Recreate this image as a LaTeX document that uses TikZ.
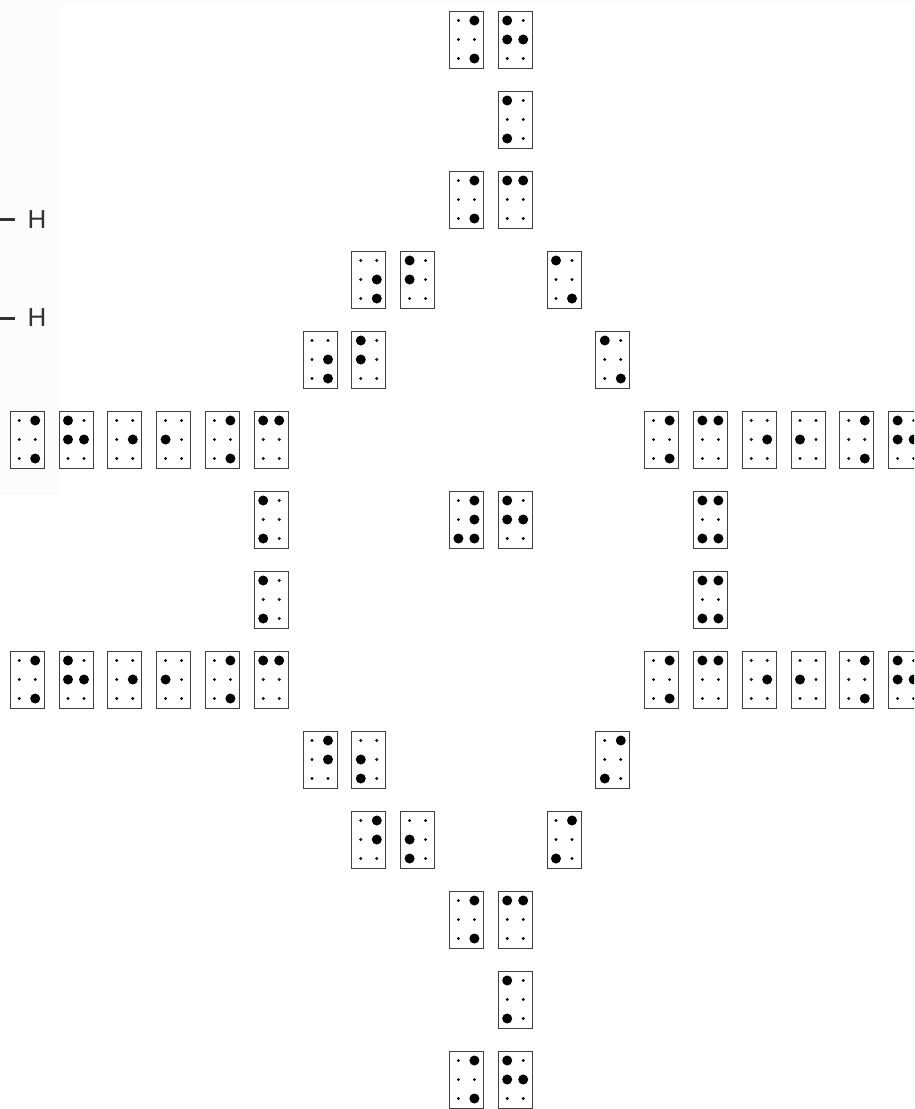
\documentclass[tikz,border=0pt]{standalone}
\usepackage{fontspec}
\newfontfamily\labelfont{Liberation Sans}
\usepackage{xcolor}

\newcommand{\brl}[4]{%
  \node[cellbox] (#1) at ({27.2+48.8*#2},{39.5+80*#3}) {};
  \foreach \n/\dx/\dy in {1/-8/-19,2/-8/0,3/-8/19,4/8/-19,5/8/0,6/8/19}
    \coordinate (#1-\n) at ([shift={(\dx,\dy)}]#1.center);
  \foreach \n in {1,...,6} \fill (#1-\n) circle (1.6pt);
  \foreach \n in {#4} \fill (#1-\n) circle (5pt);
}

\begin{document}
\begin{tikzpicture}[x=1pt,y=-1pt,
  cellbox/.style={draw=black!75,line width=0.9pt,minimum width=34pt,minimum height=57pt,inner sep=0pt},
  hlabel/.style={inner sep=0pt,text=black!80,font=\labelfont\fontsize{26}{26}\selectfont},
  bond/.style={draw=black!80,line width=3pt,shorten >=12.5pt}]
\useasboundingbox (0,0) rectangle (914,1109);
\clip (0,0) rectangle (914,1109);
\fill[black!1] (0,0) rectangle (60,495);
\fill[black!1] (0,0) rectangle (914,5);

\node[hlabel] (h1) at (37,219.5) {H};
\coordinate (b1) at (0,219.5);
\draw[bond] (b1) -- (h1);
\node[hlabel] (h2) at (37,318) {H};
\coordinate (b2) at (0,318);
\draw[bond] (b2) -- (h2);

\brl{r0c9}{9}{0}{4,6}
\brl{r0c10}{10}{0}{1,2,5}
\brl{r1c10}{10}{1}{1,3}
\brl{r2c9}{9}{2}{4,6}
\brl{r2c10}{10}{2}{1,4}
\brl{r3c7}{7}{3}{5,6}
\brl{r3c8}{8}{3}{1,2}
\brl{r3c11}{11}{3}{1,6}
\brl{r4c6}{6}{4}{5,6}
\brl{r4c7}{7}{4}{1,2}
\brl{r4c12}{12}{4}{1,6}

\foreach \r in {5,8}{
  \brl{r\r c0}{0}{\r}{4,6}
  \brl{r\r c1}{1}{\r}{1,2,5}
  \brl{r\r c2}{2}{\r}{5}
  \brl{r\r c3}{3}{\r}{2}
  \brl{r\r c4}{4}{\r}{4,6}
  \brl{r\r c5}{5}{\r}{1,4}
  \brl{r\r c13}{13}{\r}{4,6}
  \brl{r\r c14}{14}{\r}{1,4}
  \brl{r\r c15}{15}{\r}{5}
  \brl{r\r c16}{16}{\r}{2}
  \brl{r\r c17}{17}{\r}{4,6}
  \brl{r\r c18}{18}{\r}{1,2,5}
}

\brl{r6c5}{5}{6}{1,3}
\brl{r6c9}{9}{6}{3,4,5,6}
\brl{r6c10}{10}{6}{1,2,5}
\brl{r6c14}{14}{6}{1,3,4,6}
\brl{r7c5}{5}{7}{1,3}
\brl{r7c14}{14}{7}{1,3,4,6}

\brl{r9c6}{6}{9}{4,5}
\brl{r9c7}{7}{9}{2,3}
\brl{r9c12}{12}{9}{3,4}
\brl{r10c7}{7}{10}{4,5}
\brl{r10c8}{8}{10}{2,3}
\brl{r10c11}{11}{10}{3,4}
\brl{r11c9}{9}{11}{4,6}
\brl{r11c10}{10}{11}{1,4}
\brl{r12c10}{10}{12}{1,3}
\brl{r13c9}{9}{13}{4,6}
\brl{r13c10}{10}{13}{1,2,5}
\end{tikzpicture}
\end{document}
